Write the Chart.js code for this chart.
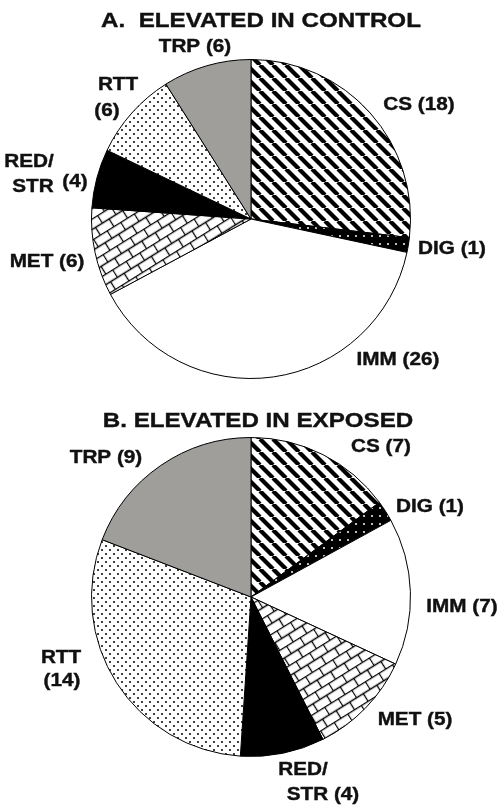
<!DOCTYPE html>
<html>
<head>
<meta charset="utf-8">
<script src="https://cdn.jsdelivr.net/npm/chart.js@4/dist/chart.umd.min.js"></script>
<style>
  body { margin: 0; background: #fff; }
  canvas { display: block; }
</style>
</head>
<body>
<canvas id="pieA" width="498" height="400"></canvas>
<canvas id="pieB" width="498" height="408"></canvas>
<script>
// 범주 (시계 방향, 12시부터)
const categories = ['CS', 'DIG', 'IMM', 'MET', 'RED/STR', 'RTT', 'TRP'];
// 각 그룹별 유전자 수
const controlCounts = [18, 1, 26, 6, 4, 6, 6];
const exposedCounts = [7, 1, 7, 5, 4, 14, 9];
// 제목
const titleA = 'A.  ELEVATED IN CONTROL';
const titleB = 'B. ELEVATED IN EXPOSED';

// ---------------- 패턴 ----------------
function tile(w, h, draw) {
  const c = document.createElement('canvas');
  c.width = w; c.height = h;
  const g = c.getContext('2d');
  draw(g, w, h);
  return c;
}
function makePatterns(ctx) {
  // CS: 사선 (\)
  const stripe = tile(13, 13, (g, w, h) => {
    g.fillStyle = '#fff'; g.fillRect(0, 0, w, h);
    g.strokeStyle = '#000'; g.lineWidth = 4.2;
    for (let k = -1; k <= 1; k++) {
      g.beginPath(); g.moveTo(k * w, 0); g.lineTo(k * w + w, h); g.stroke();
    }
  });
  // DIG: 검정 바탕 흰 점
  const blackDots = tile(8, 8, (g, w, h) => {
    g.fillStyle = '#000'; g.fillRect(0, 0, w, h);
    g.fillStyle = '#fff';
    g.beginPath(); g.arc(4, 4, 1, 0, Math.PI * 2); g.fill();
  });
  // MET: 기울어진 벽돌
  const brick = tile(16, 18, (g, w, h) => {
    g.fillStyle = '#fff'; g.fillRect(0, 0, w, h);
    g.strokeStyle = '#000'; g.lineWidth = 1.3;
    g.beginPath();
    g.moveTo(0, 0.5); g.lineTo(w, 0.5);
    g.moveTo(0, 9.5); g.lineTo(w, 9.5);
    g.moveTo(0.5, 0.5); g.lineTo(0.5, 9.5);
    g.moveTo(8.5, 9.5); g.lineTo(8.5, 18);
    g.stroke();
  });
  // RTT: 흰 바탕 검은 점
  const dots = tile(8, 8, (g, w, h) => {
    g.fillStyle = '#fff'; g.fillRect(0, 0, w, h);
    g.fillStyle = '#000';
    g.beginPath(); g.arc(2, 2, 1, 0, Math.PI * 2); g.fill();
    g.beginPath(); g.arc(6, 6, 1, 0, Math.PI * 2); g.fill();
  });
  const brickPat = ctx.createPattern(brick, 'repeat');
  brickPat.setTransform(new DOMMatrix().rotate(-32));
  return [
    ctx.createPattern(stripe, 'repeat'),
    ctx.createPattern(blackDots, 'repeat'),
    '#ffffff',
    brickPat,
    '#000000',
    ctx.createPattern(dots, 'repeat'),
    '#a09e9b'
  ];
}

// ---------------- 글자 ----------------
function drawText(ctx, text, x, y, size) {
  ctx.save();
  ctx.translate(x, y);
  ctx.scale(1.15, 1);
  ctx.font = 'bold ' + size + 'px "Liberation Sans", Arial, sans-serif';
  ctx.fillStyle = '#111';
  ctx.strokeStyle = '#111';
  ctx.lineWidth = 0.4;
  ctx.textAlign = 'center';
  ctx.textBaseline = 'middle';
  ctx.fillText(text, 0, 0);
  ctx.strokeText(text, 0, 0);
  ctx.restore();
}

// 라벨 위치 (캔버스 좌표)
const labelsA = [
  { t: titleA, x: 261, y: 21, s: 21 },
  { t: 'TRP (6)', x: 195, y: 47, s: 18 },
  { t: 'CS (18)', x: 419, y: 105, s: 18 },
  { t: 'DIG (1)', x: 452, y: 249, s: 18 },
  { t: 'IMM (26)', x: 398, y: 360, s: 18 },
  { t: 'MET (6)', x: 47, y: 262, s: 18 },
  { t: 'RED/', x: 29, y: 162, s: 18 },
  { t: 'STR', x: 33, y: 187, s: 18 },
  { t: '(4)', x: 75, y: 182, s: 18 },
  { t: 'RTT', x: 118, y: 85, s: 18 },
  { t: '(6)', x: 107, y: 111, s: 18 }
];
const labelsB = [
  { t: titleB, x: 258, y: 21, s: 21 },
  { t: 'CS (7)', x: 381, y: 47, s: 18 },
  { t: 'DIG (1)', x: 430, y: 107, s: 18 },
  { t: 'IMM (7)', x: 462, y: 207, s: 18 },
  { t: 'MET (5)', x: 415, y: 320, s: 18 },
  { t: 'RED/', x: 303, y: 370, s: 18 },
  { t: 'STR (4)', x: 323, y: 395, s: 18 },
  { t: 'RTT', x: 61, y: 258, s: 18 },
  { t: '(14)', x: 62, y: 281, s: 18 },
  { t: 'TRP (9)', x: 106, y: 58, s: 18 }
];

const textPlugin = {
  id: 'textLabels',
  afterDraw(chart, args, opts) {
    const ctx = chart.ctx;
    opts.items.forEach(l => drawText(ctx, l.t, l.x, l.y, l.s));
  }
};

function makePie(id, values, labels, padding) {
  const ctx = document.getElementById(id).getContext('2d');
  return new Chart(ctx, {
    type: 'pie',
    data: {
      labels: categories,
      datasets: [{
        data: values,
        backgroundColor: makePatterns(ctx),
        borderColor: '#000',
        borderWidth: 1
      }]
    },
    options: {
      responsive: false,
      animation: false,
      layout: { padding: padding },
      plugins: {
        legend: { display: false },
        tooltip: { enabled: false },
        textLabels: { items: labels }
      }
    },
    plugins: [textPlugin]
  });
}

makePie('pieA', controlCounts, labelsA, { top: 59, bottom: 21, left: 90, right: 86 });
makePie('pieB', exposedCounts, labelsB, { top: 37, bottom: 51, left: 90, right: 86 });
</script>
</body>
</html>
